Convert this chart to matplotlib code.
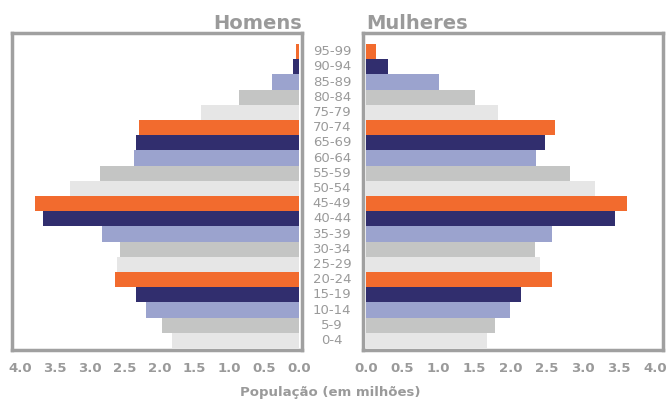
import matplotlib.pyplot as plt
import numpy as np

# age groups, bottom to top
ages = ['0-4', '5-9', '10-14', '15-19', '20-24', '25-29', '30-34', '35-39',
        '40-44', '45-49', '50-54', '55-59', '60-64', '65-69', '70-74',
        '75-79', '80-84', '85-89', '90-94', '95-99']

# population in millions
homens = [1.82, 1.96, 2.20, 2.33, 2.64, 2.61, 2.56, 2.83, 3.67, 3.79,
          3.28, 2.85, 2.37, 2.33, 2.30, 1.41, 0.86, 0.38, 0.09, 0.04]
mulheres = [1.67, 1.79, 1.99, 2.15, 2.57, 2.41, 2.34, 2.57, 3.45, 3.61,
            3.17, 2.82, 2.36, 2.48, 2.62, 1.83, 1.51, 1.01, 0.30, 0.14]

ticks = [0.0, 0.5, 1.0, 1.5, 2.0, 2.5, 3.0, 3.5, 4.0]

# colour cycle repeats every 5 groups
palette = ['#e6e6e6', '#c4c5c4', '#9ba3ce', '#312e6e', '#f26b2e']
colors = [palette[i % 5] for i in range(len(ages))]

W, H = 669, 403
fig = plt.figure(figsize=(W / 100, H / 100), dpi=100)

gray = '#9a9a9a'
box = '#a0a0a0'
y = np.arange(len(ages))


def panel(x0, x1, data, xlim):
    ax = fig.add_axes([x0 / W, (H - 350) / H, (x1 - x0) / W, 317 / H])
    ax.barh(y, data, height=1.0, color=colors, linewidth=0)
    ax.set_xlim(*xlim)
    ax.set_ylim(-0.63, 20.22)
    ax.set_yticks([])
    ax.set_xticks(ticks)
    ax.set_xticklabels([f'{t:.1f}' for t in ticks], fontsize=9.5,
                       fontweight='bold', color=gray)
    ax.tick_params(axis='x', length=0, pad=9)
    for s in ax.spines.values():
        s.set_color(box)
        s.set_linewidth(2.5)
    return ax


ax_m = panel(12, 302, homens, (4.115, -0.043))
ax_f = panel(363, 663, mulheres, (-0.04, 4.11))

fig.text(302 / W, 1 - 29 / H, 'Homens', ha='right', va='baseline',
         fontsize=14, fontweight='bold', color=gray)
fig.text(366 / W, 1 - 29 / H, 'Mulheres', ha='left', va='baseline',
         fontsize=14, fontweight='bold', color=gray)

# age labels in the middle
for i, a in enumerate(ages):
    yy = 350 - (i + 0.63) * 15.2
    fig.text(332 / W, 1 - yy / H, a, ha='center', va='center',
             fontsize=9.5, color=gray)

fig.text(330 / W, 1 - 396 / H, 'População (em milhões)', ha='center',
         va='baseline', fontsize=9.5, fontweight='bold', color=gray)

fig.savefig('out.png', dpi=100)
